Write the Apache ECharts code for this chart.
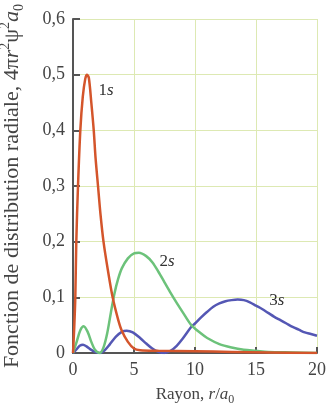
<!DOCTYPE html>
<html>
<head>
<meta charset="utf-8">
<script src="https://cdn.jsdelivr.net/npm/echarts@6/dist/echarts.min.js"></script>
<style>
html,body{margin:0;padding:0;background:#fff;}
#c{width:328px;height:404px;}
</style>
</head>
<body>
<div id="c"></div>
<script>
// Data: [r/a0, value]
const s1 = [[0,0],[0.1,0.045],[0.19,0.1],[0.27,0.2],[0.41,0.3],[0.6,0.4],[0.8,0.46],[1.0,0.492],[1.15,0.5],[1.3,0.494],[1.5,0.45],[1.7,0.4],[1.85,0.35],[2.05,0.3],[2.25,0.25],[2.5,0.2],[2.85,0.15],[3.25,0.1],[3.7,0.06],[4.0,0.04],[4.5,0.02],[5.0,0.008],[5.5,0.005],[7,0.004],[10,0.003],[13,0.002],[16,0.001],[20,0]];
const s2 = [[0,0],[0.3,0.02],[0.6,0.041],[0.88,0.048],[1.2,0.038],[1.5,0.02],[1.8,0.006],[2.2,0],[2.5,0.01],[2.8,0.035],[3.1,0.072],[3.4,0.107],[3.7,0.133],[4.0,0.152],[4.5,0.17],[5.0,0.179],[5.4,0.18],[6.0,0.174],[6.5,0.163],[7.0,0.146],[7.5,0.127],[8.0,0.108],[8.5,0.09],[9.0,0.073],[9.7,0.05],[10.5,0.035],[11,0.027],[12,0.016],[13,0.01],[14,0.006],[15,0.004],[16,0.002],[18,0.001],[20,0]];
const s3 = [[0,0],[0.3,0.007],[0.55,0.013],[0.82,0.015],[1.1,0.012],[1.4,0.007],[1.8,0.002],[2.2,0],[2.6,0.005],[3.0,0.015],[3.5,0.029],[4.0,0.038],[4.4,0.04],[4.9,0.037],[5.5,0.027],[6.0,0.017],[6.5,0.008],[7.0,0.002],[7.5,0],[8.0,0.004],[8.5,0.013],[9.0,0.026],[9.7,0.047],[10,0.053],[10.5,0.064],[11,0.074],[11.5,0.083],[12,0.089],[12.5,0.093],[13,0.095],[13.5,0.096],[14,0.095],[14.5,0.091],[15,0.085],[15.5,0.079],[16,0.072],[16.5,0.065],[17,0.059],[17.5,0.053],[18,0.047],[18.5,0.042],[19,0.037],[19.5,0.034],[20,0.031]];
const seriesNames = ['1s','2s','3s'];
const labelAt = [[2.7,0.472],[7.7,0.164],[16.7,0.095]];
const xTicks = [0,5,10,15,20];
const yTicks = [0,0.1,0.2,0.3,0.4,0.5,0.6];

const serif = '"Liberation Serif","DejaVu Serif",serif';
const colors = ['#d4552b','#6cc27a','#5457b4'];
const chart = echarts.init(document.getElementById('c'));
const datas = [s1,s2,s3];
chart.setOption({
  animation:false,
  backgroundColor:'#fff',
  grid:{left:73,right:11,top:19,bottom:51,containLabel:false,outerBoundsMode:'none'},
  xAxis:{
    type:'value',min:xTicks[0],max:xTicks[xTicks.length-1],interval:5,
    name:'{n|Rayon, }{i|r}{n|/}{i|a}{sub|0}',
    nameLocation:'middle',nameGap:31,
    nameTextStyle:{rich:{
      n:{fontFamily:serif,fontSize:17,color:'#444',lineHeight:22},
      i:{fontFamily:serif,fontSize:17,fontStyle:'italic',color:'#444',lineHeight:22},
      sub:{fontFamily:serif,fontSize:12,color:'#444',verticalAlign:'bottom',lineHeight:22}
    }},
    axisLine:{show:true,lineStyle:{color:'#555',width:2}},
    axisTick:{show:true,inside:true,length:6,lineStyle:{color:'#555',width:2}},
    axisLabel:{fontFamily:serif,fontSize:18,color:'#444',margin:8},
    splitLine:{show:true,lineStyle:{color:'#dde9b3',width:1}}
  },
  yAxis:{
    type:'value',min:yTicks[0],max:yTicks[yTicks.length-1],interval:0.1,
    name:'{n|Fonction de distribution radiale, 4π}{i|r}{sup|2}{n|ψ}{sup|2}{i|a}{sub|0}',
    nameLocation:'middle',nameGap:47,nameRotate:90,
    nameTextStyle:{rich:{
      n:{fontFamily:serif,fontSize:22,color:'#444',lineHeight:28},
      i:{fontFamily:serif,fontSize:22,fontStyle:'italic',color:'#444',lineHeight:28},
      sup:{fontFamily:serif,fontSize:14,color:'#444',verticalAlign:'top',lineHeight:28},
      sub:{fontFamily:serif,fontSize:14,color:'#444',verticalAlign:'bottom',lineHeight:28}
    }},
    axisLine:{show:true,lineStyle:{color:'#555',width:2}},
    axisTick:{show:true,inside:true,length:7,lineStyle:{color:'#555',width:2}},
    axisLabel:{fontFamily:serif,fontSize:18,color:'#444',margin:8,
      formatter:v=>(Math.round(v*10)/10).toString().replace('.',',')},
    splitLine:{show:true,lineStyle:{color:'#dde9b3',width:1}}
  },
  series:datas.map((d,i)=>({
    type:'line',name:seriesNames[i],data:d,smooth:0.3,showSymbol:false,
    lineStyle:{color:colors[i],width:2.5},itemStyle:{color:colors[i]},
    z:3-i,
    markPoint:{symbol:'circle',symbolSize:0,silent:true,
      data:[{coord:labelAt[i],value:seriesNames[i]}],
      label:{show:true,position:'inside',
        formatter:'{a|'+seriesNames[i].charAt(0)+'}{b|s}',
        rich:{a:{fontFamily:serif,fontSize:17,color:'#333'},b:{fontFamily:serif,fontSize:17,fontStyle:'italic',color:'#333'}}}}
  }))
});
</script>
</body>
</html>
